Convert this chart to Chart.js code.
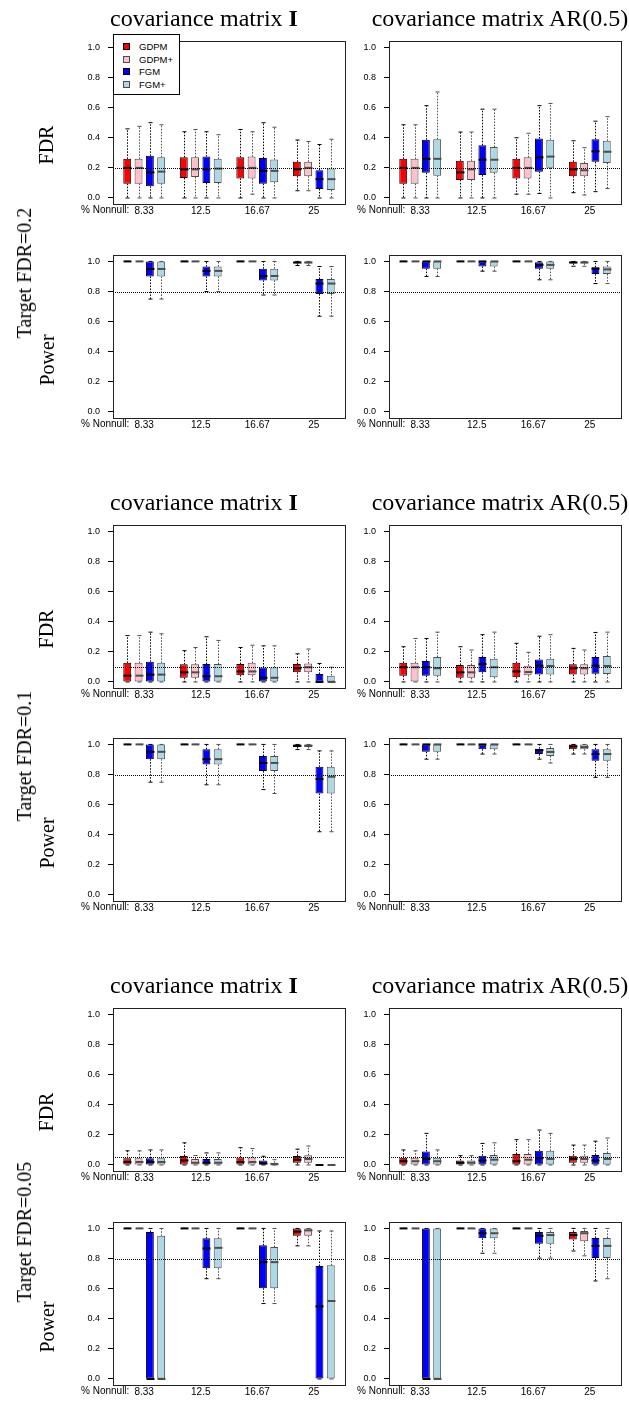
<!DOCTYPE html>
<html lang="en">
<head>
<meta charset="UTF-8">
<title>FDR and power boxplots</title>
<script src="https://cdn.jsdelivr.net/npm/chart.js"></script>
<style>
  body { margin: 0; background: #fff; }
  #page { position: relative; width: 629px; height: 1403px; overflow: hidden; }
  canvas { position: absolute; }
  .title { position: absolute; font-family: 'Liberation Serif', 'Times New Roman', serif; font-size: 24px; line-height: 24px; white-space: nowrap; transform: translateX(-50%); color: #000; }
  .rot { position: absolute; font-family: 'Liberation Serif', 'Times New Roman', serif; font-size: 20px; line-height: 20px; white-space: nowrap; transform: translate(-50%, -50%) rotate(-90deg); color: #000; }
  .nonnull { position: absolute; font-family: 'Liberation Sans', Arial, sans-serif; font-size: 10px; line-height: 12px; white-space: nowrap; color: #000; }
  #legend { position: absolute; left: 113px; top: 34px; width: 67px; height: 61px; border: 1px solid #000; box-sizing: border-box; background: #fff; font-family: 'Liberation Sans', Arial, sans-serif; font-size: 9.5px; }
  #legend .sw { position: absolute; left: 9px; width: 7px; height: 7px; box-sizing: border-box; }
  #legend .tx { position: absolute; left: 25px; line-height: 11px; white-space: nowrap; }
</style>
</head>
<body>
<div id="page"></div>
<script>
// x groups and methods
const groups = ['8.33', '12.5', '16.67', '25'];
const methods = ['GDPM', 'GDPM+', 'FGM', 'FGM+'];
const yTicks = [0, 0.2, 0.4, 0.6, 0.8, 1.0];
const targets = [0.2, 0.1, 0.05];
const powerLine = 0.8;

// box stats: [lower whisker, Q1, median, Q3, upper whisker], per group: GDPM, GDPM+, FGM, FGM+
const fdrI_02 = [
  [0, .095, .20, .26, .459], [0, .095, .20, .26, .476], [0, .078, .17, .28, .50], [0, .095, .175, .27, .486],
  [0, .133, .19, .27, .44], [0, .14, .19, .27, .455], [0, .10, .19, .275, .44], [0, .10, .195, .26, .42],
  [0, .13, .20, .27, .455], [.025, .13, .20, .275, .44], [0, .095, .18, .265, .50], [0, .105, .18, .255, .47],
  [.048, .145, .19, .24, .385], [.048, .145, .20, .24, .375], [0, .06, .125, .185, .355], [0, .053, .125, .195, .39]
];
const fdrAR_02 = [
  [0, .095, .20, .26, .486], [0, .095, .20, .26, .486], [0, .167, .26, .387, .613], [0, .148, .26, .39, .704],
  [0, .12, .17, .247, .438], [0, .12, .19, .247, .438], [0, .152, .254, .35, .59], [0, .167, .254, .338, .59],
  [.025, .13, .20, .26, .40], [.025, .13, .20, .27, .43], [.03, .175, .27, .395, .613], [0, .20, .275, .387, .628],
  [.035, .145, .19, .24, .38], [.02, .145, .184, .233, .334], [.042, .24, .31, .39, .51], [.063, .233, .307, .38, .54]
];
const powI_02 = [
  [1, 1, 1, 1, 1], [1, 1, 1, 1, 1], [.75, .90, .95, 1, 1], [.75, .90, .95, 1, 1],
  [1, 1, 1, 1, 1], [1, 1, 1, 1, 1], [.80, .90, .937, .966, 1], [.80, .90, .937, .966, 1],
  [1, 1, 1, 1, 1], [1, 1, 1, 1, 1], [.777, .874, .903, .952, 1], [.777, .874, .903, .952, 1],
  [.973, .987, .993, 1, 1], [.973, .987, .993, 1, 1], [.636, .783, .853, .884, .966], [.636, .783, .853, .884, .966]
];
const powAR_02 = [
  [1, 1, 1, 1, 1], [1, 1, 1, 1, 1], [.90, .952, 1, 1, 1], [.90, .952, 1, 1, 1],
  [1, 1, 1, 1, 1], [1, 1, 1, 1, 1], [.935, .966, 1, 1, 1], [.935, .966, 1, 1, 1],
  [1, 1, 1, 1, 1], [1, 1, 1, 1, 1], [.878, .952, .977, .994, 1], [.878, .952, .977, 1, 1],
  [.968, .987, .993, 1, 1], [.968, .987, .993, 1, 1], [.853, .916, .952, .962, 1], [.853, .916, .947, .966, 1]
];
const fdrI_01 = [
  [0, 0, .042, .127, .308], [0, 0, .042, .127, .308], [0, 0, .049, .134, .331], [0, 0, .049, .127, .32],
  [0, .028, .064, .117, .208], [0, .028, .064, .117, .229], [0, 0, .038, .119, .30], [0, 0, .038, .119, .276],
  [0, .045, .07, .119, .229], [0, .045, .07, .127, .244], [0, 0, .028, .096, .24], [0, 0, .028, .096, .24],
  [0, .064, .091, .119, .187], [0, .064, .098, .123, .219], [0, 0, 0, .053, .123], [0, 0, 0, .042, .098]
];
const fdrAR_01 = [
  [0, .042, .098, .127, .234], [0, 0, .098, .127, .289], [0, .042, .098, .14, .289], [0, .042, .091, .166, .331],
  [0, .028, .064, .113, .234], [0, .028, .064, .113, .212], [0, .064, .119, .166, .314], [0, .032, .098, .155, .331],
  [0, .032, .07, .127, .257], [0, .045, .066, .108, .197], [0, .049, .108, .149, .304], [0, .049, .106, .155, .314],
  [0, .049, .091, .117, .223], [0, .049, .091, .117, .212], [0, .055, .108, .166, .329], [0, .053, .106, .172, .331]
];
const powI_01 = [
  [1, 1, 1, 1, 1], [1, 1, 1, 1, 1], [.749, .902, .951, 1, 1], [.749, .902, .951, 1, 1],
  [1, 1, 1, 1, 1], [1, 1, 1, 1, 1], [.732, .866, .902, .968, 1], [.732, .866, .902, .968, 1],
  [1, 1, 1, 1, 1], [1, 1, 1, 1, 1], [.70, .823, .877, .923, 1], [.674, .823, .877, .923, 1],
  [.966, .983, .991, 1, 1], [.966, .983, .991, 1, 1], [.42, .674, .77, .851, .957], [.42, .674, .785, .851, .957]
];
const powAR_01 = [
  [1, 1, 1, 1, 1], [1, 1, 1, 1, 1], [.902, .951, 1, 1, 1], [.902, .951, 1, 1, 1],
  [1, 1, 1, 1, 1], [1, 1, 1, 1, 1], [.936, .968, 1, 1, 1], [.936, .968, 1, 1, 1],
  [1, 1, 1, 1, 1], [1, 1, 1, 1, 1], [.902, .936, .962, .972, 1], [.877, .923, .95, .977, 1],
  [.936, .968, .987, 1, 1], [.936, .968, .983, 1, 1], [.781, .891, .936, .968, 1], [.781, .891, .936, .968, 1]
];
const fdrI_005 = [
  [0, 0, .02, .045, .094], [0, 0, .02, .045, .094], [0, 0, .02, .045, .10], [0, 0, .02, .045, .10],
  [0, 0, .03, .06, .147], [0, 0, .015, .04, .063], [0, 0, .015, .04, .08], [0, 0, .015, .04, .08],
  [0, 0, .02, .05, .115], [0, 0, .02, .05, .109], [0, 0, .01, .03, .058], [0, 0, .005, .015, .035],
  [0, .015, .035, .06, .105], [0, .015, .04, .065, .126], [0, 0, 0, 0, 0], [0, 0, 0, 0, 0]
];
const fdrAR_005 = [
  [0, 0, .025, .048, .10], [0, 0, .025, .048, .094], [0, 0, .04, .09, .21], [0, 0, .025, .048, .10],
  [0, 0, .015, .03, .062], [0, 0, .015, .03, .062], [0, 0, .03, .062, .143], [0, 0, .035, .067, .147],
  [0, 0, .025, .073, .168], [0, 0, .035, .073, .168], [0, 0, .045, .094, .232], [0, 0, .04, .094, .21],
  [0, .015, .04, .062, .132], [0, .015, .04, .062, .132], [0, 0, .03, .067, .158], [0, 0, .04, .08, .179]
];
const powI_005 = [
  [1, 1, 1, 1, 1], [1, 1, 1, 1, 1], [0, 0, 0, .977, 1], [0, 0, 0, .951, 1],
  [1, 1, 1, 1, 1], [1, 1, 1, 1, 1], [.666, .736, .867, .934, 1], [.666, .736, .871, .934, 1],
  [1, 1, 1, 1, 1], [1, 1, 1, 1, 1], [.501, .603, .776, .888, 1], [.501, .603, .776, .877, 1],
  [.884, .951, .979, 1, 1], [.884, .951, .987, 1, 1], [0, 0, .482, .75, .983], [0, 0, .518, .755, .983]
];
const powAR_005 = [
  [1, 1, 1, 1, 1], [1, 1, 1, 1, 1], [0, 0, 0, 1, 1], [0, 0, 0, 1, 1],
  [1, 1, 1, 1, 1], [1, 1, 1, 1, 1], [.835, .934, .968, 1, 1], [.835, .934, .968, 1, 1],
  [1, 1, 1, 1, 1], [1, 1, 1, 1, 1], [.803, .899, .951, .977, 1], [.803, .899, .956, .977, 1],
  [.85, .926, .956, .977, 1], [.818, .915, .968, .983, 1], [.651, .803, .884, .937, 1], [.666, .803, .884, .937, 1]
];

const fills = ['#ff0000', '#ffc0cb', '#0000ff', '#add8e6'];
const edges = ['#000000', '#4d4d4d', '#000000', '#4d4d4d'];

// page geometry
const COL_X = [113, 389];
const ROW_Y = [34, 248, 518, 731, 1001, 1215];
const PLOT_W = 232, PLOT_H = 170;
const AXIS_W = 50, PAD_T = 6, PAD_R = 6, XAXIS_H = 20;
const sans = "'Liberation Sans', Arial, sans-serif";

const page = document.getElementById('page');

const boxExtras = {
  id: 'boxExtras',
  afterDatasetsDraw(chart, args, opts) {
    const { ctx, chartArea: a, scales: { x, y } } = chart;
    const unit = x.getPixelForValue(1) - x.getPixelForValue(0);
    const half = unit * 0.35, cap = unit * 0.18;
    const seg = (x1, y1, x2, y2) => { ctx.beginPath(); ctx.moveTo(x1, y1); ctx.lineTo(x2, y2); ctx.stroke(); };
    ctx.save();
    opts.stats.forEach((s, k) => {
      const gi = Math.floor(k / 4), mi = k % 4;
      const cx = Math.round(x.getPixelForValue(gi * 5 + mi + 1)) + 0.5;
      const [lo, q1, med, q3, hi] = s.map(v => y.getPixelForValue(v));
      ctx.strokeStyle = edges[mi];
      ctx.lineWidth = 1;
      ctx.setLineDash([1.5, 1.5]);
      if (hi < q3) seg(cx, q3, cx, hi);
      if (lo > q1) seg(cx, q1, cx, lo);
      ctx.setLineDash([]);
      seg(cx - cap, hi, cx + cap, hi);
      seg(cx - cap, lo, cx + cap, lo);
      ctx.lineWidth = 2;
      seg(cx - half, med, cx + half, med);
    });
    // target line
    ctx.strokeStyle = '#000';
    ctx.lineWidth = 1;
    ctx.setLineDash([1, 1]);
    const ry = Math.round(y.getPixelForValue(opts.ref)) + 0.5;
    seg(a.left, ry, a.right, ry);
    ctx.setLineDash([]);
    ctx.strokeStyle = '#222';
    ctx.strokeRect(Math.round(a.left) + 0.5, Math.round(a.top) + 0.5, Math.round(a.width), Math.round(a.height));
    ctx.restore();
  }
};

function makePanel(col, row, stats, ref) {
  const canvas = document.createElement('canvas');
  const W = AXIS_W + PLOT_W + PAD_R, H = PAD_T + PLOT_H + XAXIS_H;
  canvas.width = W; canvas.height = H;
  canvas.style.width = W + 'px'; canvas.style.height = H + 'px';
  canvas.style.left = (COL_X[col] - AXIS_W) + 'px';
  canvas.style.top = (ROW_Y[row] - PAD_T) + 'px';
  page.appendChild(canvas);

  new Chart(canvas, {
    type: 'bar',
    data: {
      datasets: methods.map((m, mi) => ({
        label: m,
        data: groups.map((g, gi) => ({ x: gi * 5 + mi + 1, y: [stats[gi * 4 + mi][1], stats[gi * 4 + mi][3]] })),
        backgroundColor: fills[mi],
        borderColor: edges[mi],
        borderWidth: 1,
        borderSkipped: false,
        grouped: false,
        barPercentage: 0.7,
        categoryPercentage: 1
      }))
    },
    options: {
      responsive: false,
      animation: false,
      layout: { padding: { left: 0, top: PAD_T, right: PAD_R, bottom: 0 } },
      plugins: {
        legend: { display: false },
        tooltip: { enabled: false },
        boxExtras: { stats: stats, ref: ref }
      },
      scales: {
        x: {
          type: 'linear',
          offset: false,
          min: -0.26, max: 20.26,
          grid: { display: false, drawTicks: false, offset: false },
          border: { display: false },
          afterBuildTicks: s => { s.ticks = groups.map((g, i) => ({ value: i * 5 + 2.5 })); },
          ticks: { callback: (v, i) => groups[i], padding: 1, color: '#000', font: { family: sans, size: 10 }, maxRotation: 0, autoSkip: false },
          afterFit: s => { s.height = XAXIS_H; }
        },
        y: {
          min: -0.04, max: 1.04,
          afterBuildTicks: s => { s.ticks = yTicks.map(v => ({ value: v })); },
          grid: { drawOnChartArea: false, drawTicks: true, tickLength: 5, color: '#000' },
          border: { display: true, color: '#000' },
          ticks: { callback: v => v.toFixed(1), padding: 8, color: '#000', font: { family: sans, size: 9 } },
          afterFit: s => { s.width = AXIS_W; }
        }
      }
    },
    plugins: [boxExtras]
  });

  const nn = document.createElement('div');
  nn.className = 'nonnull';
  nn.textContent = '% Nonnull:';
  nn.style.left = (col === 0 ? 81 : 357) + 'px';
  nn.style.top = (ROW_Y[row] + PLOT_H) + 'px';
  page.appendChild(nn);
}

function addText(cls, html, left, top) {
  const d = document.createElement('div');
  d.className = cls;
  d.innerHTML = html;
  d.style.left = left + 'px';
  d.style.top = top + 'px';
  page.appendChild(d);
}

const panels = [
  [fdrI_02, fdrAR_02, powI_02, powAR_02],
  [fdrI_01, fdrAR_01, powI_01, powAR_01],
  [fdrI_005, fdrAR_005, powI_005, powAR_005]
];
const targetCenters = [273, 756, 1232];

panels.forEach((p, t) => {
  const rf = t * 2, rp = t * 2 + 1;
  makePanel(0, rf, p[0], targets[t]);
  makePanel(1, rf, p[1], targets[t]);
  makePanel(0, rp, p[2], powerLine);
  makePanel(1, rp, p[3], powerLine);
  addText('title', 'covariance matrix <b>I</b>', 204, ROW_Y[rf] - 28);
  addText('title', 'covariance matrix AR(0.5)', 500, ROW_Y[rf] - 28);
  addText('rot', 'FDR', 46, ROW_Y[rf] + 111);
  addText('rot', 'Power', 47, ROW_Y[rp] + 112);
  addText('rot', 'Target FDR=' + targets[t], 24, targetCenters[t]);
});

// legend in first panel
const legend = document.createElement('div');
legend.id = 'legend';
methods.forEach((m, i) => {
  const sw = document.createElement('div');
  sw.className = 'sw';
  sw.style.top = (8 + i * 12.5) + 'px';
  sw.style.background = fills[i];
  sw.style.border = '1px solid ' + edges[i];
  legend.appendChild(sw);
  const tx = document.createElement('div');
  tx.className = 'tx';
  tx.style.top = (6 + i * 12.5) + 'px';
  tx.textContent = m;
  legend.appendChild(tx);
});
page.appendChild(legend);
</script>
</body>
</html>
